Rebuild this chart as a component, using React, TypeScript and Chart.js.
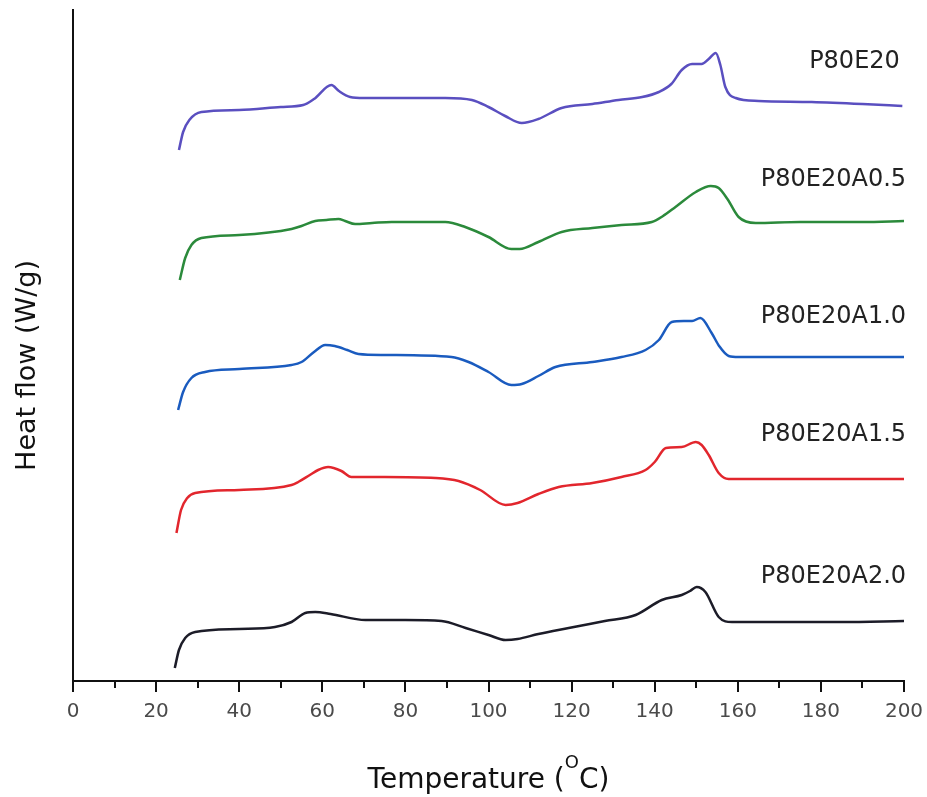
import React, { useEffect, useRef } from "react";
import { Chart, registerables } from "chart.js";

Chart.register(...registerables);

// Temperature (°C) and heat flow (arbitrary offset units) for each sample
const tP80E20 = [25.5, 26.5, 28, 30.9, 40, 50, 55.4, 58, 62.2, 64, 66.7, 70, 76.6, 89.6, 96, 100, 104, 108, 112, 117.6, 125, 131.3, 137, 141, 144, 146.5, 149, 151.3, 153, 154.7, 155.8, 157, 159.5, 165, 177.8, 190, 199.6];
const hP80E20 = [53.1, 54.9, 56.1, 56.9, 57.1, 57.4, 57.6, 58.2, 59.6, 59.0, 58.4, 58.3, 58.3, 58.3, 58.1, 57.4, 56.5, 55.8, 56.2, 57.3, 57.7, 58.1, 58.4, 58.9, 59.7, 61.1, 61.7, 61.7, 62.2, 62.8, 61.6, 59.4, 58.3, 58.0, 57.9, 57.7, 57.5];

const tA05 = [25.7, 27, 28.5, 30.9, 40, 52.6, 55, 58.3, 61, 63.9, 65.5, 67.9, 72, 76.7, 89.6, 94.4, 100, 105.5, 107.5, 112, 117.6, 125, 132, 139.3, 142, 145, 149.9, 153.5, 155.4, 157.5, 160.2, 164.3, 175, 190, 200];
const hA05 = [40.1, 42.3, 43.6, 44.3, 44.6, 45.2, 45.5, 46.0, 46.1, 46.2, 46.0, 45.7, 45.8, 45.9, 45.9, 45.4, 44.4, 43.2, 43.2, 43.9, 44.9, 45.3, 45.6, 45.9, 46.5, 47.4, 48.9, 49.5, 49.3, 48.2, 46.4, 45.8, 45.9, 45.9, 46.0];

const tA10 = [25.3, 26.5, 28.5, 31.8, 40, 52.6, 55, 58, 60.7, 63, 66, 68.7, 75, 91.1, 95.2, 100, 105.5, 108, 112, 116.1, 125, 132, 137.8, 141, 144.1, 147, 149, 151, 153.7, 155.5, 157.8, 160.2, 180, 200];
const hA10 = [27.1, 28.9, 30.3, 30.9, 31.2, 31.6, 31.9, 32.9, 33.6, 33.5, 33.1, 32.7, 32.6, 32.4, 31.9, 30.9, 29.6, 29.7, 30.5, 31.4, 31.9, 32.4, 33.1, 34.1, 35.9, 36.0, 36.0, 36.3, 34.8, 33.5, 32.5, 32.4, 32.4, 32.4];

const tA15 = [24.9, 26, 27.5, 29.4, 40, 52.6, 54.2, 57, 59, 61.4, 64.6, 67, 75, 87.2, 92.8, 98, 104.1, 107, 112, 116.9, 125, 132, 137.8, 140, 142.7, 146.5, 149.9, 151.3, 153, 155.4, 157.8, 165, 180, 200];
const hA15 = [14.8, 17.1, 18.3, 18.8, 19.1, 19.6, 19.9, 20.6, 21.1, 21.4, 21.0, 20.4, 20.4, 20.3, 20.0, 19.1, 17.6, 17.8, 18.7, 19.4, 19.8, 20.4, 21.1, 21.9, 23.3, 23.4, 23.9, 23.6, 22.6, 20.8, 20.2, 20.2, 20.2, 20.2];

const tA20 = [24.5, 25.5, 27, 29.4, 40, 48.6, 52.6, 55.9, 58.3, 62, 70.4, 80, 88.7, 94.5, 100, 104.1, 107, 112, 119.3, 128, 135.4, 141.7, 146.5, 148.5, 150.1, 152.2, 155.4, 158.6, 170, 185, 200];
const hA20 = [1.3, 3.1, 4.3, 4.9, 5.2, 5.4, 5.9, 6.8, 6.9, 6.7, 6.1, 6.1, 6.0, 5.3, 4.6, 4.1, 4.2, 4.7, 5.3, 6.0, 6.6, 8.1, 8.6, 9.0, 9.4, 8.9, 6.4, 5.9, 5.9, 5.9, 6.0];

const seriesNames = ["P80E20", "P80E20A0.5", "P80E20A1.0", "P80E20A1.5", "P80E20A2.0"];
const seriesColors = ["#5a4fc0", "#2b8a3b", "#1a5bbf", "#e2262d", "#1c1c28"];
const seriesT = [tP80E20, tA05, tA10, tA15, tA20];
const seriesH = [hP80E20, hA05, hA10, hA15, hA20];
// label anchor (temperature, heat flow) for the right-aligned curve names
const labelT = [199, 200.5, 200.5, 200.5, 200.5];
const labelH = [61.9, 50.1, 36.4, 24.6, 10.4];

const xTicks = [0, 20, 40, 60, 80, 100, 120, 140, 160, 180, 200];

const FONT = "'DejaVu Sans', 'Noto Sans', sans-serif";

const decorPlugin = {
  id: "decor",
  afterDraw(chart: any) {
    const ctx = chart.ctx;
    const x = chart.scales.x;
    const y = chart.scales.y;
    const area = chart.chartArea;
    ctx.save();
    // tick marks (major every 20, minor every 10)
    ctx.strokeStyle = "#111";
    ctx.lineWidth = 2;
    for (let v = 0; v <= 200; v += 10) {
      const px = Math.round(x.getPixelForValue(v));
      const len = v % 20 === 0 ? 11 : 7;
      ctx.beginPath();
      ctx.moveTo(px, area.bottom);
      ctx.lineTo(px, area.bottom + len);
      ctx.stroke();
    }
    // curve names
    ctx.fillStyle = "#222";
    ctx.font = `24px ${FONT}`;
    ctx.textAlign = "right";
    ctx.textBaseline = "middle";
    seriesNames.forEach((n, i) => {
      ctx.fillText(n, x.getPixelForValue(labelT[i]), y.getPixelForValue(labelH[i]));
    });
    // x title with superscript O
    ctx.fillStyle = "#111";
    ctx.textBaseline = "alphabetic";
    ctx.textAlign = "left";
    const big = `28px ${FONT}`;
    const small = `18px ${FONT}`;
    const p1 = "Temperature (";
    const p2 = "O";
    const p3 = "C)";
    ctx.font = big;
    const w1 = ctx.measureText(p1).width;
    const w3 = ctx.measureText(p3).width;
    ctx.font = small;
    const w2 = ctx.measureText(p2).width;
    const total = w1 + w2 + w3;
    let sx = (area.left + area.right) / 2 - total / 2;
    const base = 788;
    ctx.font = big;
    ctx.fillText(p1, sx, base);
    sx += w1;
    ctx.font = small;
    ctx.fillText(p2, sx, base - 20);
    sx += w2;
    ctx.font = big;
    ctx.fillText(p3, sx, base);
    // y title
    ctx.save();
    ctx.translate(35, (area.top + area.bottom) / 2 + 20);
    ctx.rotate(-Math.PI / 2);
    ctx.textAlign = "center";
    ctx.font = `27px ${FONT}`;
    ctx.fillText("Heat flow (W/g)", 0, 0);
    ctx.restore();
    ctx.restore();
  },
};

export default function App() {
  const ref = useRef<HTMLCanvasElement | null>(null);
  useEffect(() => {
    if (!ref.current) return;
    const chart = new Chart(ref.current, {
      type: "line",
      data: {
        datasets: seriesNames.map((n, i) => ({
          label: n,
          data: seriesT[i].map((t, j) => ({ x: t, y: seriesH[i][j] })),
          borderColor: seriesColors[i],
          backgroundColor: seriesColors[i],
          borderWidth: 2.5,
          pointRadius: 0,
          cubicInterpolationMode: "monotone" as const,
          fill: false,
        })),
      },
      options: {
        animation: false,
        responsive: true,
        maintainAspectRatio: false,
        layout: { padding: { left: 0, right: 23, top: 10, bottom: 0 } },
        plugins: { legend: { display: false }, tooltip: { enabled: false } },
        scales: {
          x: {
            type: "linear",
            min: 0,
            max: 200,
            afterBuildTicks: (s: any) => {
              s.ticks = xTicks.map((v) => ({ value: v }));
            },
            afterFit: (s: any) => {
              s.height = 116;
              s.paddingLeft = 0;
              s.paddingRight = 0;
            },
            ticks: {
              color: "#4a4a4a",
              font: { family: FONT, size: 20 },
              padding: 19,
              maxRotation: 0,
              autoSkip: false,
            },
            grid: { display: false, drawTicks: false },
            border: { display: true, color: "#111", width: 2 },
          },
          y: {
            type: "linear",
            min: 0,
            max: 67.1,
            afterFit: (s: any) => {
              s.width = 73;
              s.paddingTop = 0;
              s.paddingBottom = 0;
            },
            ticks: { display: false },
            grid: { display: false, drawTicks: false },
            border: { display: true, color: "#111", width: 2 },
          },
        },
      },
      plugins: [decorPlugin],
    });
    return () => chart.destroy();
  }, []);
  return (
    <div style={{ position: "fixed", left: 0, top: 0, width: 927, height: 797, background: "#fff" }}>
      <canvas ref={ref} />
    </div>
  );
}
